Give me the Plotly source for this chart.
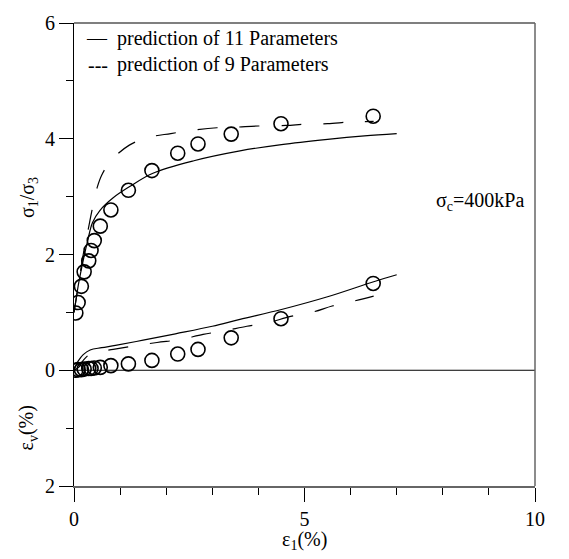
import plotly.graph_objects as go

# measured data (circles): axial strain (%)
exp_x = [0.04, 0.09, 0.16, 0.22, 0.32, 0.37, 0.44, 0.57, 0.80, 1.18, 1.69, 2.25, 2.69, 3.41, 4.49, 6.49]
exp_ratio = [0.99, 1.17, 1.45, 1.70, 1.89, 2.07, 2.24, 2.49, 2.77, 3.11, 3.45, 3.75, 3.91, 4.08, 4.26, 4.39]
exp_ev = [0.00, 0.01, 0.01, 0.02, 0.03, 0.03, 0.04, 0.05, 0.08, 0.11, 0.17, 0.28, 0.36, 0.56, 0.89, 1.50]

# prediction of 11 parameters (solid)
p11_x = [0, 0.05, 0.1, 0.2, 0.3, 0.4, 0.56, 0.85, 1.2, 1.7, 2.6, 3.6, 4.5, 5.5, 6.3, 7.0]
p11_ratio = [1.0, 1.25, 1.5, 1.9, 2.25, 2.55, 2.76, 2.98, 3.17, 3.40, 3.62, 3.79, 3.90, 3.99, 4.05, 4.09]
p11_ev_x = [0, 0.05, 0.1, 0.2, 0.35, 0.6, 0.9, 1.5, 2.2, 3.0, 3.6, 4.5, 5.5, 6.5, 7.0]
p11_ev = [0, 0.10, 0.17, 0.27, 0.35, 0.39, 0.43, 0.52, 0.63, 0.76, 0.88, 1.05, 1.27, 1.53, 1.65]

# prediction of 9 parameters (dashed)
p9_x = [0, 0.1, 0.2, 0.3, 0.4, 0.5, 0.6, 0.8, 1.2, 1.6, 2.1, 2.6, 3.1, 3.5, 4.0, 4.6, 5.0, 5.5, 6.0, 6.5]
p9_ratio = [1.0, 1.5, 2.0, 2.4, 2.8, 3.15, 3.37, 3.62, 3.89, 4.02, 4.09, 4.15, 4.19, 4.20, 4.22, 4.23, 4.25, 4.26, 4.29, 4.30]
p9_ev_x = [0, 0.1, 0.2, 0.35, 0.6, 0.85, 1.3, 1.8, 2.3, 2.8, 3.25, 3.75, 4.2, 4.7, 5.2, 5.6, 6.1, 6.5]
p9_ev = [0, 0.05, 0.17, 0.28, 0.33, 0.36, 0.42, 0.48, 0.53, 0.62, 0.68, 0.76, 0.82, 0.93, 1.01, 1.11, 1.20, 1.28]

ytick_vals = [-2, 0, 2, 4, 6]
ytick_text = ["2", "0", "2", "4", "6"]
xtick_vals = [0, 5, 10]
xtick_text = ["0", "5", "10"]

FONT = "Liberation Serif"
fig = go.Figure()

line_s = dict(color="black", width=1.2)
line_d = dict(color="black", width=1.2, dash="20px,22px")

fig.add_trace(go.Scatter(x=p11_x, y=p11_ratio, mode="lines", line=line_s, line_shape="spline"))
fig.add_trace(go.Scatter(x=p11_ev_x, y=p11_ev, mode="lines", line=line_s, line_shape="spline"))
fig.add_trace(go.Scatter(x=p9_x, y=p9_ratio, mode="lines", line=line_d, line_shape="spline"))
fig.add_trace(go.Scatter(x=p9_ev_x, y=p9_ev, mode="lines", line=line_d, line_shape="spline"))

marker = dict(symbol="circle-open", size=14, color="black", line=dict(width=1.6, color="black"))
fig.add_trace(go.Scatter(x=exp_x, y=exp_ratio, mode="markers", marker=marker))
fig.add_trace(go.Scatter(x=exp_x, y=exp_ev, mode="markers", marker=marker))

# zero line
fig.add_shape(type="line", xref="paper", x0=0, x1=1, yref="y", y0=0, y1=0,
              line=dict(color="black", width=1))
# top and right frame
fig.add_shape(type="line", xref="paper", yref="paper", x0=0, x1=1, y0=1, y1=1,
              line=dict(color="black", width=1.2))
fig.add_shape(type="line", xref="paper", yref="paper", x0=1, x1=1, y0=0, y1=1,
              line=dict(color="#666666", width=1.5))

tf = dict(family=FONT, size=20, color="black")
ann = [
    dict(x=0.22, y=5.74, text="\u2014", xanchor="left"),
    dict(x=0.88, y=5.74, text="prediction of 11 Parameters", xanchor="left"),
    dict(x=0.26, y=5.28, text="---", xanchor="left"),
    dict(x=0.88, y=5.28, text="prediction of 9 Parameters", xanchor="left"),
    dict(x=7.8, y=2.92, text="\u03c3<sub>c</sub>=400kPa", xanchor="left"),
]
for a in ann:
    fig.add_annotation(xref="x", yref="y", yanchor="middle", showarrow=False, font=tf, **a)

fig.add_annotation(xref="paper", yref="y", x=-0.1, y=2.99, text="\u03c3<sub>1</sub>/\u03c3<sub>3</sub>",
                   textangle=-90, showarrow=False, font=tf, xanchor="center", yanchor="middle")
fig.add_annotation(xref="paper", yref="y", x=-0.1, y=-0.99, text="\u03b5<sub>v</sub>(%)",
                   textangle=-90, showarrow=False, font=tf, xanchor="center", yanchor="middle")
fig.add_annotation(xref="x", yref="paper", x=5, y=-0.118, text="\u03b5<sub>1</sub>(%)",
                   showarrow=False, font=tf, xanchor="center", yanchor="middle")

fig.update_xaxes(range=[0, 10], tickvals=xtick_vals, ticktext=xtick_text, ticks="outside",
                 ticklen=14, tickwidth=1.2, tickcolor="black",
                 minor=dict(dtick=1, tick0=0, ticks="outside", ticklen=7, tickwidth=1.2, tickcolor="black"),
                 showline=True, linecolor="#666666", linewidth=1.5, showgrid=False, zeroline=False,
                 tickfont=tf)
fig.update_yaxes(range=[-2, 6], tickvals=ytick_vals, ticktext=ytick_text, ticks="outside",
                 ticklen=14, tickwidth=1.2, tickcolor="black",
                 minor=dict(dtick=1, tick0=0, ticks="outside", ticklen=7, tickwidth=1.2, tickcolor="black"),
                 showline=True, linecolor="black", linewidth=1.2, showgrid=False, zeroline=False,
                 tickfont=tf)

fig.update_layout(width=569, height=559, margin=dict(l=74, r=34, t=16, b=73),
                  plot_bgcolor="white", paper_bgcolor="white", showlegend=False,
                  font=tf)
fig.write_html("out.html")
